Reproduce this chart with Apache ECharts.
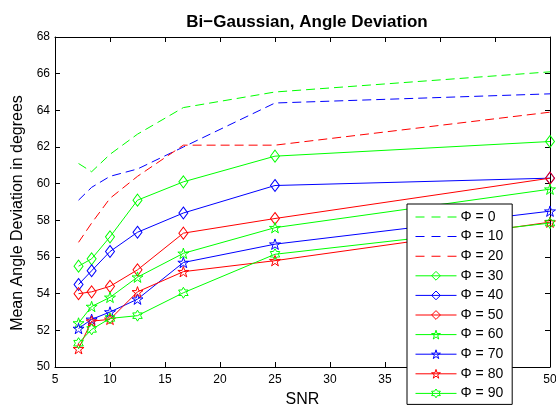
<!DOCTYPE html>
<html>
<head>
<meta charset="utf-8">
<script src="https://cdn.jsdelivr.net/npm/echarts@6/dist/echarts.min.js"></script>
<style>
html,body{margin:0;padding:0;background:#fff;}
#c{width:556px;height:410px;}
</style>
</head>
<body>
<div id="c"></div>
<script>
// ---- data ----
const snr = [7.14, 8.33, 10, 12.5, 16.67, 25, 50];
const seriesNames = ['Φ = 0','Φ = 10','Φ = 20','Φ = 30','Φ = 40','Φ = 50','Φ = 60','Φ = 70','Φ = 80','Φ = 90'];
const phi0  = [61.1, 60.65, 61.6, 62.7, 64.15, 65.0, 66.1];
const phi10 = [59.1, 59.8, 60.4, 60.8, 62.0, 64.4, 64.9];
const phi20 = [56.8, 57.85, 59.2, 60.4, 62.1, 62.1, 63.9];
const phi30 = [55.5, 55.9, 57.1, 59.1, 60.1, 61.5, 62.3];
const phi40 = [54.5, 55.25, 56.3, 57.35, 58.4, 59.9, 60.3];
const phi50 = [54.0, 54.1, 54.4, 55.3, 57.3, 58.1, 60.3];
const phi60 = [52.4, 53.3, 53.8, 54.9, 56.2, 57.6, 59.7];
const phi70 = [52.1, 52.6, 53.0, 53.7, 55.7, 56.7, 58.5];
const phi80 = [51.0, 52.5, 52.6, 54.1, 55.2, 55.8, 57.9];
const phi90 = [51.3, 52.05, 52.65, 52.8, 54.05, 56.15, 57.85];
const xTicks = {min: 5, max: 50, interval: 5};
const yTicks = {min: 50, max: 68, interval: 2};

const allValues = [phi0, phi10, phi20, phi30, phi40, phi50, phi60, phi70, phi80, phi90];

// ---- styles ----
const G = '#00ff00', B = '#0000ff', R = '#ff0000';
const colors = [G, B, R, G, B, R, G, B, R, G];
const STAR = 'path://M0,-100 L22.45,-30.9 L95.1,-30.9 L36.3,11.8 L58.8,80.9 L0,38.2 L-58.8,80.9 L-36.3,11.8 L-95.1,-30.9 L-22.45,-30.9 Z';
const HEX = 'path://M0,-100 L28.87,-50 L86.6,-50 L57.7,0 L86.6,50 L28.87,50 L0,100 L-28.87,50 L-86.6,50 L-57.7,0 L-86.6,-50 L-28.87,-50 Z';
const DASH_ICON = 'path://M0,0 H9 V1 H0 Z M16,0 H25 V1 H16 Z M32,0 H41 V1 H32 Z';
const styles = [
  {dash: true,  symbol: 'none'},
  {dash: true,  symbol: 'none'},
  {dash: true,  symbol: 'none'},
  {dash: false, symbol: 'diamond', size: [9, 12]},
  {dash: false, symbol: 'diamond', size: [9, 12]},
  {dash: false, symbol: 'diamond', size: [9, 12]},
  {dash: false, symbol: STAR, size: 11},
  {dash: false, symbol: STAR, size: 11},
  {dash: false, symbol: STAR, size: 11},
  {dash: false, symbol: HEX, size: 11}
];

const FONT = '"Liberation Sans", Arial, Helvetica, sans-serif';

const series = allValues.map((vals, i) => {
  const st = styles[i];
  return {
    name: seriesNames[i],
    type: 'line',
    xAxisIndex: 0, yAxisIndex: 0,
    data: snr.map((x, k) => [x, vals[k]]),
    color: colors[i],
    symbol: st.symbol,
    showSymbol: st.symbol !== 'none',
    symbolSize: st.size || 0,
    symbolKeepAspect: true,
    showAllSymbol: true,
    lineStyle: {color: colors[i], width: 1, type: st.dash ? [9, 5] : 'solid'},
    itemStyle: {color: 'rgba(255,255,255,0)', borderColor: colors[i], borderWidth: 1},
    emphasis: {disabled: true},
    animation: false,
    z: 2 + i
  };
});

const legendData = seriesNames.map((n, i) => styles[i].dash
  ? {name: n, icon: DASH_ICON, itemStyle: {color: colors[i], borderWidth: 0}}
  : {name: n});

const axisCommon = {
  axisLine: {show: true, onZero: false, lineStyle: {color: '#000', width: 1}},
  axisTick: {show: true, inside: true, length: 5, lineStyle: {color: '#000'}},
  splitLine: {show: false}
};

const option = {
  animation: false,
  backgroundColor: '#fff',
  title: {
    text: 'Bi\u2212Gaussian, Angle Deviation',
    left: 302, top: 9, textAlign: 'center',
    textStyle: {fontFamily: FONT, fontWeight: 'bold', fontSize: 17, color: '#000'}
  },
  grid: {left: 55, right: 6, top: 37, bottom: 43, containLabel: false, outerBoundsMode: 'none'},
  xAxis: [
    Object.assign({type: 'value', position: 'bottom', min: xTicks.min, max: xTicks.max, interval: xTicks.interval,
      name: 'SNR', nameLocation: 'middle', nameGap: 25,
      nameTextStyle: {fontFamily: FONT, fontSize: 16, color: '#000'},
      axisLabel: {fontFamily: FONT, fontSize: 12, color: '#000', margin: 7}}, axisCommon),
    Object.assign({type: 'value', position: 'top', min: xTicks.min, max: xTicks.max, interval: xTicks.interval,
      axisLabel: {show: false}}, axisCommon)
  ],
  yAxis: [
    Object.assign({type: 'value', position: 'left', min: yTicks.min, max: yTicks.max, interval: yTicks.interval,
      name: 'Mean Angle Deviation in degrees', nameLocation: 'middle', nameGap: 26,
      nameTextStyle: {fontFamily: FONT, fontSize: 16, color: '#000', padding: [0, 22, 0, 0]},
      axisLabel: {fontFamily: FONT, fontSize: 12, color: '#000', margin: 5}}, axisCommon),
    Object.assign({type: 'value', position: 'right', min: yTicks.min, max: yTicks.max, interval: yTicks.interval,
      axisLabel: {show: false}}, axisCommon)
  ],
  legend: {
    show: true,
    orient: 'vertical',
    left: 407, top: 204,
    backgroundColor: '#fff',
    borderColor: '#000', borderWidth: 1, borderRadius: 0,
    padding: [6, 9, 4, 8],
    itemWidth: 41, itemHeight: 11, itemGap: 5.6,
    selectedMode: false,
    itemStyle: {color: 'rgba(255,255,255,0)', borderWidth: 1},
    lineStyle: {width: 1},
    textStyle: {fontFamily: FONT, fontSize: 14, color: '#000', padding: [0, 0, 0, -1]},
    data: legendData,
    z: 20
  },
  series: series
};

const chart = echarts.init(document.getElementById('c'), null, {renderer: 'canvas'});
chart.setOption(option);
</script>
</body>
</html>
